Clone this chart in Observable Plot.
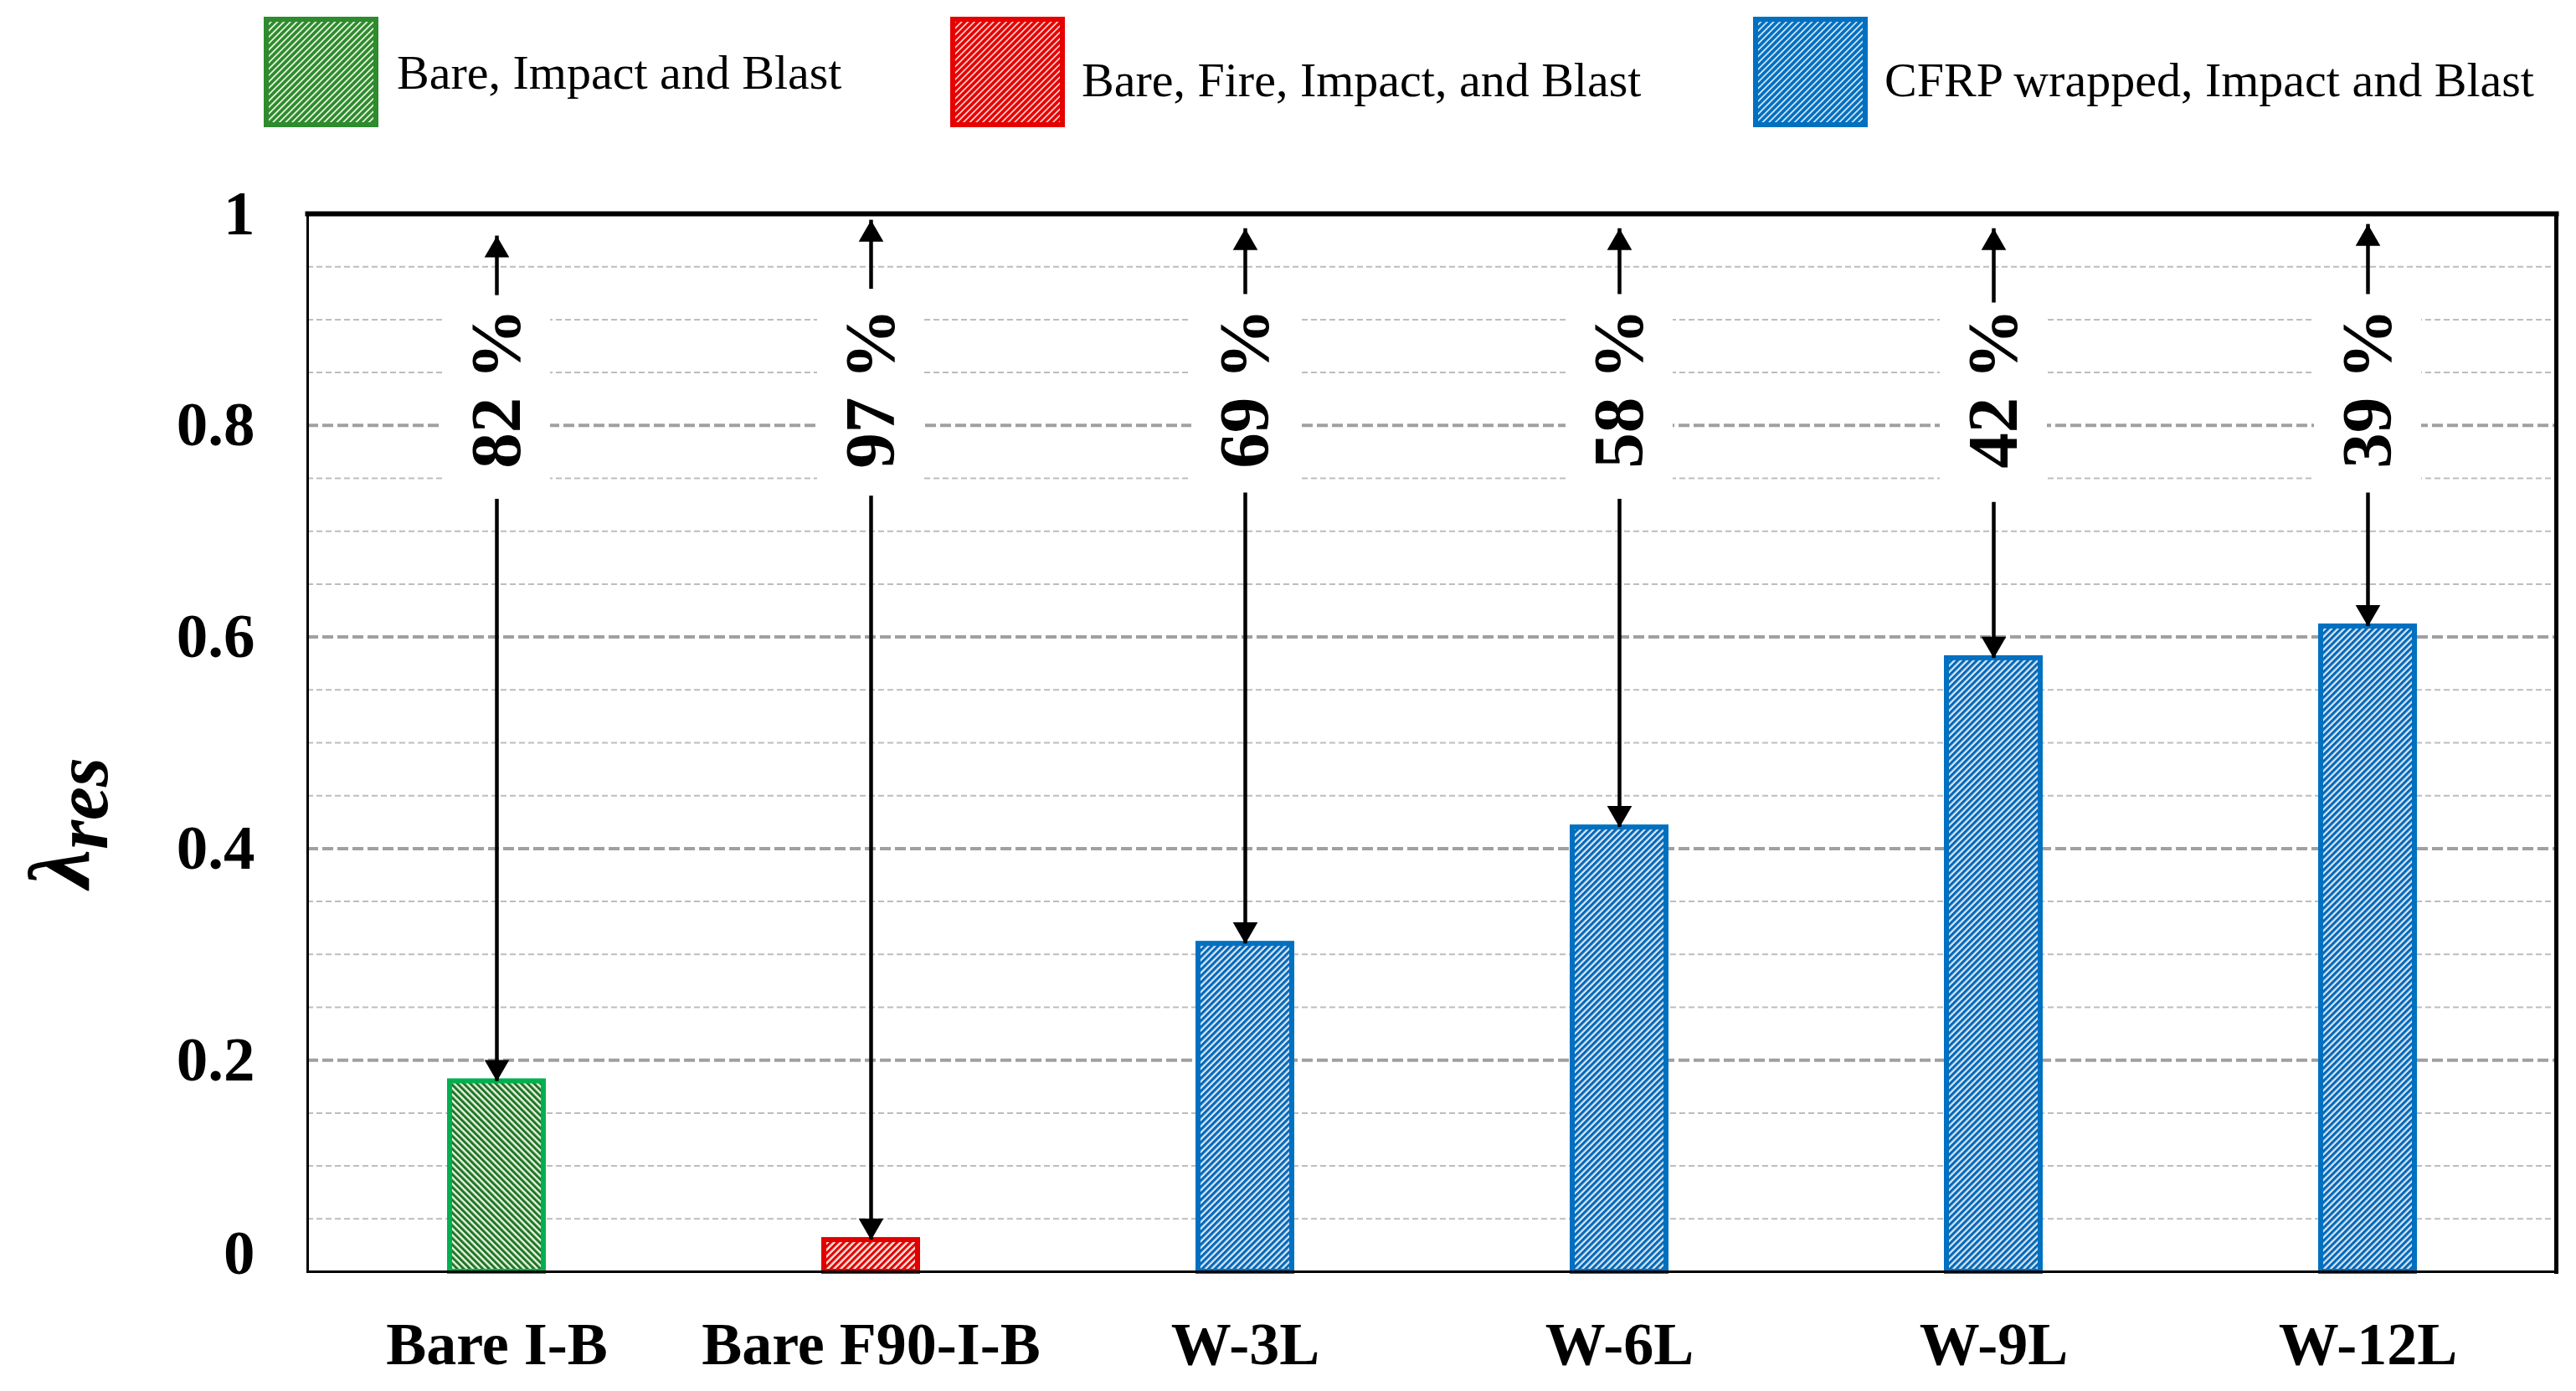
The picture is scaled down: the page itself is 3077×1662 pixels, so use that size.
<!DOCTYPE html>
<html>
<head>
<meta charset="utf-8">
<script src="https://cdn.jsdelivr.net/npm/d3@7"></script>
<script src="https://cdn.jsdelivr.net/npm/@observablehq/plot@0.6"></script>
<style>
  html, body { margin: 0; padding: 0; background: #fff; overflow: hidden; }
  #wrap { width: 3077px; height: 1662px; }
  #legend svg, #chart svg { display: block; }
</style>
</head>
<body>
<div id="wrap">
  <div id="legend"></div>
  <div id="chart"></div>
</div>
<script>
// ---------------- data ----------------
const categories = ["Bare I-B", "Bare F90-I-B", "W-3L", "W-6L", "W-9L", "W-12L"];
const groupOf = ["bare", "fire", "cfrp", "cfrp", "cfrp", "cfrp"];
const lambdaRes = [0.18, 0.03, 0.31, 0.42, 0.58, 0.61];
const reductionLabels = ["82 %", "97 %", "69 %", "58 %", "42 %", "39 %"];
const upArrowFrom = [0.937, 0.943, 0.938, 0.938, 0.930, 0.938];
const upArrowTo = [0.979, 0.994, 0.986, 0.986, 0.986, 0.990];
const downArrowFrom = [0.716, 0.719, 0.722, 0.716, 0.713, 0.722];
const yTicks = [0, 0.2, 0.4, 0.6, 0.8, 1];
const yTickLabels = ["0", "0.2", "0.4", "0.6", "0.8", "1"];
const majorGrid = [0.2, 0.4, 0.6, 0.8];
const minorGrid = [0.05, 0.1, 0.15, 0.25, 0.3, 0.35, 0.45, 0.5, 0.55, 0.65, 0.7, 0.75, 0.85, 0.9, 0.95];
const legendGroups = ["bare", "fire", "cfrp"];
const legendLabels = ["Bare, Impact and Blast", "Bare, Fire, Impact, and Blast", "CFRP wrapped, Impact and Blast"];
const yTitleMain = "λ";
const yTitleSub = "res";

// ---------------- styles ----------------
const serif = "'Liberation Serif', 'Times New Roman', serif";
const barBorder = {bare: "#00b050", fire: "#e00000", cfrp: "#0070c0"};
const legendBorder = {bare: "#2e8b2e", fire: "#e60000", cfrp: "#0070c0"};

// ---------------- legend (with pattern defs) ----------------
const leg = d3.select("#legend").append("svg")
  .attr("width", 3077).attr("height", 170);
const defs = leg.append("defs");
function hatch(id, fg, bg, angle, period, stripe) {
  const p = defs.append("pattern")
    .attr("id", id)
    .attr("patternUnits", "userSpaceOnUse")
    .attr("width", period).attr("height", period)
    .attr("patternTransform", `rotate(${angle})`);
  p.append("rect").attr("width", period).attr("height", period).attr("fill", bg);
  p.append("rect").attr("width", stripe).attr("height", period).attr("fill", fg);
}
hatch("bar-bare", "#1f7526", "#e8f4e0", -45, 5.4, 3.0);
hatch("bar-fire", "#e00000", "#ffe6df", 45, 5.6, 3.1);
hatch("bar-cfrp", "#0068b8", "#dbe6f3", 45, 5.4, 3.1);
hatch("leg-bare", "#2e8b2e", "#e4f2dc", 45, 5.4, 3.6);
hatch("leg-fire", "#e60000", "#ffcaca", 45, 5.4, 3.6);
hatch("leg-cfrp", "#0070c0", "#cde2f5", 45, 5.4, 3.6);

const legSwatchX = [318, 1138, 2097];
const legTextX = [474, 1292, 2251];
const legBaseline = [106, 115, 115];
legendGroups.forEach((g, i) => {
  leg.append("rect")
    .attr("x", legSwatchX[i]).attr("y", 23)
    .attr("width", 131).attr("height", 126)
    .attr("fill", `url(#leg-${g})`)
    .attr("stroke", legendBorder[g]).attr("stroke-width", 6);
  leg.append("text")
    .attr("x", legTextX[i]).attr("y", legBaseline[i])
    .attr("font-family", serif).attr("font-size", 58)
    .attr("fill", "#000")
    .text(legendLabels[i]);
});

// ---------------- chart ----------------
const rows = categories.map((c, i) => ({
  category: c,
  group: groupOf[i],
  value: lambdaRes[i],
  label: reductionLabels[i],
  up1: upArrowFrom[i],
  up2: upArrowTo[i],
  down1: downArrowFrom[i]
}));

const axisText = {fontSize: 75, fontWeight: "bold", fontFamily: serif, tickSize: 0, tickPadding: 63, label: null};

const chart = Plot.plot({
  width: 3077,
  height: 1492,
  marginTop: 85,
  marginBottom: 143,
  marginLeft: 367,
  marginRight: 24,
  style: {fontFamily: serif, background: "white", color: "black"},
  x: {domain: categories, paddingInner: 0.75, paddingOuter: 0.375},
  y: {domain: [0, 1]},
  marks: [
    Plot.ruleY(minorGrid, {stroke: "#bdbdbd", strokeWidth: 2, strokeDasharray: "7,4"}),
    Plot.ruleY(majorGrid, {stroke: "#a0a0a0", strokeWidth: 4, strokeDasharray: "13,5"}),
    Plot.barY(rows, {x: "category", y1: 0.725, y2: 0.925, fill: "white", insetLeft: -8, insetRight: -8}),
    ...legendGroups.map(g => Plot.barY(rows.filter(d => d.group === g), {
      x: "category", y: "value",
      fill: `url(#bar-${g})`, stroke: barBorder[g], strokeWidth: 6
    })),
    Plot.frame({stroke: "#000", strokeWidth: 3}),
    Plot.frame({anchor: "top", stroke: "#000", strokeWidth: 6}),
    Plot.frame({anchor: "right", stroke: "#000", strokeWidth: 5}),
    // up arrows
    Plot.ruleX(rows, {x: "category", y1: "up1", y2: "up2", stroke: "#000", strokeWidth: 4.5, insetTop: 18}),
    Plot.dot(rows, {x: "category", y: "up2", symbol: "triangle", r: 11, fill: "#000", stroke: "none", dy: 17}),
    // down arrows
    Plot.ruleX(rows, {x: "category", y1: "value", y2: "down1", stroke: "#000", strokeWidth: 4.5, insetBottom: 18}),
    Plot.dot(rows, {x: "category", y: "value", symbol: "triangle", r: 11, fill: "#000", stroke: "none", rotate: 180, dy: -17}),
    // percentage labels
    Plot.text(rows, {x: "category", y: 0.835, text: "label", rotate: -90, fontSize: 85, fontWeight: "bold", fontFamily: serif, fill: "#000"}),
    // axes
    Plot.axisX({tickSize: 0, tickPadding: 59, fontSize: 72, fontWeight: "bold", fontFamily: serif, label: null}),
    Plot.axisY({...axisText, ticks: yTicks.filter(v => v > 0), tickFormat: v => yTickLabels[yTicks.indexOf(v)]}),
    Plot.axisY({...axisText, ticks: [0], tickFormat: () => yTickLabels[0], dy: -22})
  ]
});
document.getElementById("chart").appendChild(chart);

// y-axis title with subscript
const t = d3.select(chart).append("text")
  .attr("transform", "translate(106,813) rotate(-90)")
  .attr("text-anchor", "middle")
  .attr("font-family", serif)
  .attr("font-weight", "bold")
  .attr("font-style", "italic")
  .attr("fill", "#000");
t.append("tspan").attr("font-size", 104).text(yTitleMain);
t.append("tspan").attr("font-size", 90).attr("dy", 22).text(yTitleSub);
</script>
</body>
</html>
